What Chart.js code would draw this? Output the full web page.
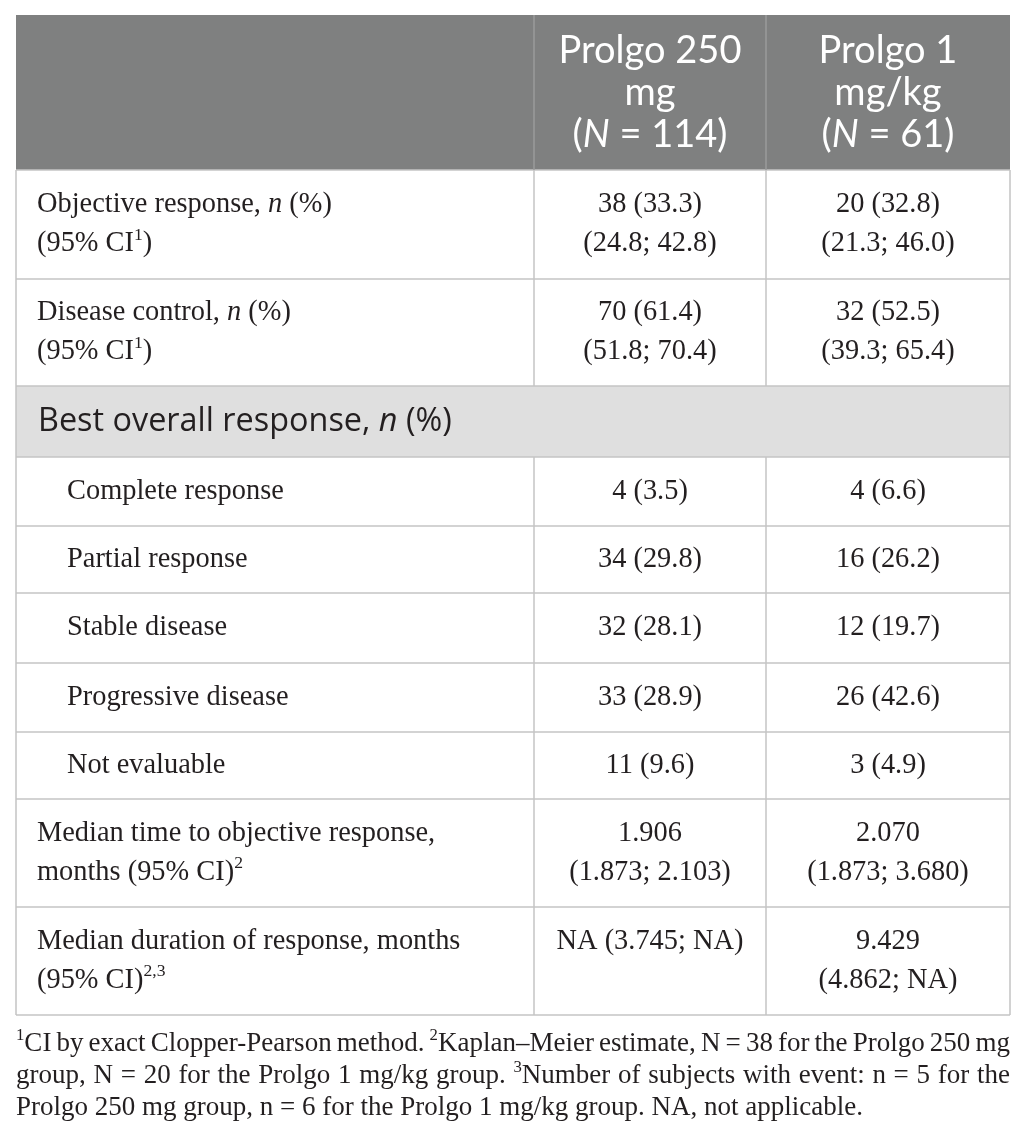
<!DOCTYPE html>
<html>
<head>
<meta charset="utf-8">
<script src="https://cdn.jsdelivr.net/npm/chart.js@4"></script>
<style>
  html, body { margin: 0; padding: 0; background: #fff; }
  canvas { display: block; }
</style>
</head>
<body>
<canvas id="table" width="1026" height="1143"></canvas>
<script>
// table content; _x_ = italic, ^x^ = superscript
const columnHeaders = [
    ['Prolgo 250', 'mg', '(_N_ = 114)'],
    ['Prolgo 1', 'mg/kg', '(_N_ = 61)']
];
const rowLabels = [
    ['Objective response, _n_ (%)', '(95% CI^1^)'],
    ['Disease control, _n_ (%)', '(95% CI^1^)'],
    ['Best overall response, _n_ (%)'],
    ['Complete response'],
    ['Partial response'],
    ['Stable disease'],
    ['Progressive disease'],
    ['Not evaluable'],
    ['Median time to objective response,', 'months (95% CI)^2^'],
    ['Median duration of response, months', '(95% CI)^2,3^']
];
const rowKinds = ['main', 'main', 'section', 'sub', 'sub', 'sub', 'sub', 'sub', 'main', 'main'];
const prolgo250mg = [
    ['38 (33.3)', '(24.8; 42.8)'],
    ['70 (61.4)', '(51.8; 70.4)'],
    null,
    ['4 (3.5)'],
    ['34 (29.8)'],
    ['32 (28.1)'],
    ['33 (28.9)'],
    ['11 (9.6)'],
    ['1.906', '(1.873; 2.103)'],
    ['NA (3.745; NA)']
];
const prolgo1mgkg = [
    ['20 (32.8)', '(21.3; 46.0)'],
    ['32 (52.5)', '(39.3; 65.4)'],
    null,
    ['4 (6.6)'],
    ['16 (26.2)'],
    ['12 (19.7)'],
    ['26 (42.6)'],
    ['3 (4.9)'],
    ['2.070', '(1.873; 3.680)'],
    ['9.429', '(4.862; NA)']
];
const footnoteLines = [
    '^1^CI by exact Clopper-Pearson method. ^2^Kaplan\u2013Meier estimate, N = 38 for the Prolgo 250 mg',
    'group, N = 20 for the Prolgo 1 mg/kg group. ^3^Number of subjects with event: n = 5 for the',
    'Prolgo 250 mg group, n = 6 for the Prolgo 1 mg/kg group. NA, not applicable.'
];

// layout (relative units)
const colUnits = [518, 232, 244];
const rowUnits = [155, 109, 107, 71, 69, 67, 70, 69, 67, 108, 108];

const serif = { family: '"Liberation Serif", "DejaVu Serif", serif', size: 28.4, weight: 'normal' };
const sans = { family: '"Open Sans", Lato, sans-serif', size: 32.4, weight: 'normal' };
const headSans = { family: 'Lato, "Open Sans", sans-serif', size: 38, weight: 'normal' };
const noteSerif = { family: '"Liberation Serif", "DejaVu Serif", serif', size: 27, weight: 'normal' };

const colEdges = colUnits.reduce((a, w) => { a.push(a[a.length - 1] + w); return a; }, [0]);
const rowEdges = rowUnits.reduce((a, h) => { a.push(a[a.length - 1] + h); return a; }, [0]);

function parseRich(s) {
    const parts = [];
    const re = /\^([^^]+)\^|_([^_]+)_|([^^_]+)/g;
    let m;
    while ((m = re.exec(s))) {
        if (m[1]) parts.push({ t: m[1], sup: true });
        else if (m[2]) parts.push({ t: m[2], it: true });
        else parts.push({ t: m[3] });
    }
    return parts;
}

function fontOf(base, p) {
    const size = p.sup ? base.size * 0.62 : base.size;
    return (p.it ? 'italic ' : '') + base.weight + ' ' + size + 'px ' + base.family;
}

function richWidth(ctx, s, base) {
    return parseRich(s).reduce((w, p) => { ctx.font = fontOf(base, p); return w + ctx.measureText(p.t).width; }, 0);
}

function drawRich(ctx, s, x, y, align, base) {
    const parts = parseRich(s);
    const total = richWidth(ctx, s, base);
    let cx = align === 'center' ? x - total / 2 : x;
    ctx.textAlign = 'left';
    ctx.textBaseline = 'middle';
    parts.forEach(p => {
        ctx.font = fontOf(base, p);
        ctx.fillText(p.t, cx, p.sup ? y - base.size * 0.32 : y);
        cx += ctx.measureText(p.t).width;
    });
}

function drawJustified(ctx, s, x0, x1, y, base) {
    const words = s.split(' ');
    const widths = words.map(w => richWidth(ctx, w, base));
    const gap = (x1 - x0 - widths.reduce((a, b) => a + b, 0)) / (words.length - 1);
    let cx = x0;
    words.forEach((w, i) => { drawRich(ctx, w, cx, y, 'left', base); cx += widths[i] + gap; });
}

const tablePlugin = {
    id: 'tablePlugin',
    afterDraw(chart) {
        const ctx = chart.ctx;
        const xs = chart.scales.x, ys = chart.scales.y;
        const X = v => xs.getPixelForValue(v);
        const Y = v => ys.getPixelForValue(v);
        const left = X(0), right = X(colEdges[colEdges.length - 1]);
        const lineH = 39;
        ctx.save();

        // header
        ctx.fillStyle = '#7f8080';
        ctx.fillRect(left, Y(rowEdges[0]), right - left, Y(rowEdges[1]) - Y(rowEdges[0]));
        ctx.fillStyle = '#ffffff';
        columnHeaders.forEach((lines, c) => {
            const cx = (X(colEdges[c + 1]) + X(colEdges[c + 2])) / 2;
            const cy = (Y(rowEdges[0]) + Y(rowEdges[1])) / 2;
            lines.forEach((ln, i) => drawRich(ctx, ln, cx, cy + (i - (lines.length - 1) / 2) * 42, 'center', headSans));
        });

        // section row fill
        rowKinds.forEach((k, r) => {
            if (k !== 'section') return;
            ctx.fillStyle = '#dfdfdf';
            ctx.fillRect(left, Y(rowEdges[r + 1]), right - left, Y(rowEdges[r + 2]) - Y(rowEdges[r + 1]));
        });

        // grid lines
        ctx.strokeStyle = '#c4c4c4';
        ctx.lineWidth = 1.5;
        for (let r = 1; r < rowEdges.length; r++) {
            ctx.beginPath();
            ctx.moveTo(left, Y(rowEdges[r]));
            ctx.lineTo(right, Y(rowEdges[r]));
            ctx.stroke();
        }
        ctx.beginPath();
        ctx.moveTo(left, Y(rowEdges[1]));
        ctx.lineTo(left, Y(rowEdges[rowEdges.length - 1]));
        ctx.moveTo(right, Y(rowEdges[1]));
        ctx.lineTo(right, Y(rowEdges[rowEdges.length - 1]));
        ctx.stroke();
        for (let c = 1; c < colEdges.length - 1; c++) {
            ctx.strokeStyle = '#9a9b9b';
            ctx.beginPath();
            ctx.moveTo(X(colEdges[c]), Y(rowEdges[0]));
            ctx.lineTo(X(colEdges[c]), Y(rowEdges[1]));
            ctx.stroke();
            ctx.strokeStyle = '#c4c4c4';
            rowKinds.forEach((k, r) => {
                if (k === 'section') return;
                ctx.beginPath();
                ctx.moveTo(X(colEdges[c]), Y(rowEdges[r + 1]));
                ctx.lineTo(X(colEdges[c]), Y(rowEdges[r + 2]));
                ctx.stroke();
            });
        }

        // body text
        ctx.fillStyle = '#231f20';
        rowLabels.forEach((lines, r) => {
            const top = Y(rowEdges[r + 1]), bottom = Y(rowEdges[r + 2]);
            const cy = (top + bottom) / 2;
            const nMax = Math.max(lines.length, (prolgo250mg[r] || []).length, (prolgo1mgkg[r] || []).length);
            const lineY = i => cy + (i - (nMax - 1) / 2) * lineH;
            if (rowKinds[r] === 'section') {
                drawRich(ctx, lines[0], left + 22, cy, 'left', sans);
                return;
            }
            const indent = rowKinds[r] === 'sub' ? 51 : 21;
            lines.forEach((ln, i) => drawRich(ctx, ln, left + indent, lineY(i), 'left', serif));
            [prolgo250mg, prolgo1mgkg].forEach((series, c) => {
                const cx = (X(colEdges[c + 1]) + X(colEdges[c + 2])) / 2;
                series[r].forEach((ln, i) => drawRich(ctx, ln, cx, lineY(i), 'center', serif));
            });
        });

        // footnote
        const fBase = Y(rowEdges[rowEdges.length - 1]);
        footnoteLines.forEach((ln, i) => {
            const y = fBase + 29 + i * 32;
            if (i < footnoteLines.length - 1) drawJustified(ctx, ln, left, right, y, noteSerif);
            else drawRich(ctx, ln, left, y, 'left', noteSerif);
        });
        ctx.restore();
    }
};

new Chart(document.getElementById('table'), {
    type: 'scatter',
    data: { datasets: [] },
    options: {
        responsive: false,
        animation: false,
        events: [],
        devicePixelRatio: 1,
        layout: { padding: { top: 15, left: 16, right: 16, bottom: 128 } },
        plugins: { legend: { display: false }, tooltip: { enabled: false } },
        scales: {
            x: { type: 'linear', min: 0, max: colEdges[colEdges.length - 1], display: false },
            y: { type: 'linear', min: 0, max: rowEdges[rowEdges.length - 1], reverse: true, display: false }
        }
    },
    plugins: [tablePlugin]
});
</script>
</body>
</html>
